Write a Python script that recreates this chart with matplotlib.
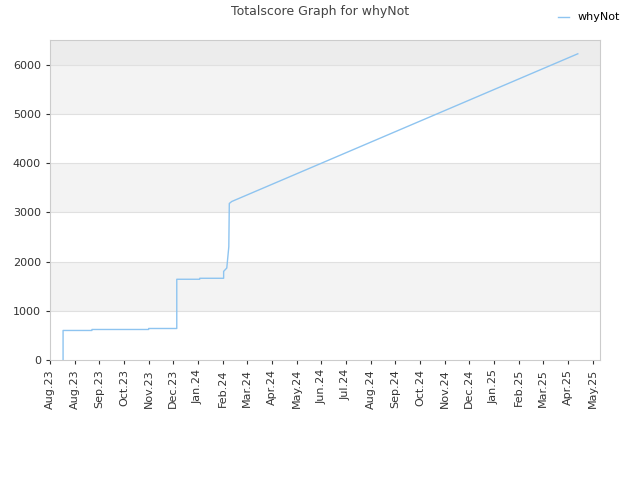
import numpy as np
import matplotlib
matplotlib.use("Agg")
import matplotlib.pyplot as plt

# x in month-slot units (tick index), y = total score
xs = [0.53, 0.53, 1.70, 1.70, 4.00, 4.00, 5.14, 5.14, 6.07, 6.07, 7.04, 7.04, 7.17, 7.17, 7.25, 7.25, 7.27, 7.37, 21.4]
ys = [0, 600, 600, 620, 620, 640, 640, 1640, 1640, 1660, 1660, 1800, 1870, 1880, 2300, 2300, 3180, 3220, 6220]
labels = ["Aug.23", "Aug.23", "Sep.23", "Oct.23", "Nov.23", "Dec.23", "Jan.24", "Feb.24", "Mar.24",
          "Apr.24", "May.24", "Jun.24", "Jul.24", "Aug.24", "Sep.24", "Oct.24", "Nov.24", "Dec.24",
          "Jan.25", "Feb.25", "Mar.25", "Apr.25", "May.25"]

fig = plt.figure(figsize=(6.4, 4.8), dpi=100)
ax = fig.add_axes([50/640, 1-360/480, 550/640, 320/480])
ymax = 6500
for lo, hi, c in [(1000, 2000, "#f3f3f3"), (3000, 4000, "#f3f3f3"), (5000, 6000, "#f3f3f3"), (6000, ymax, "#ececec")]:
    ax.axhspan(lo, hi, color=c, lw=0, zorder=0)
for g in range(1000, 7000, 1000):
    ax.axhline(g, color="#e0e0e0", lw=0.8, zorder=1)
ax.plot(xs, ys, color="#8ec4f0", lw=1.0, label="whyNot", zorder=3)
ax.set_xlim(0, 22.3)
ax.set_ylim(0, ymax)
ax.set_xticks(range(len(labels)))
ax.set_xticklabels(labels, rotation=90, fontsize=8, color="#333333")
ax.set_yticks(range(0, 7000, 1000))
ax.tick_params(axis="y", labelsize=8, colors="#333333", length=3)
ax.tick_params(axis="x", length=3, colors="#333333")
for s in ax.spines.values():
    s.set_color("#cccccc")
fig.text(0.5, 1-12/480, "Totalscore Graph for whyNot", ha="center", va="center", fontsize=9, color="#444444")
fig.legend(loc="upper right", bbox_to_anchor=(0.985, 0.995), fontsize=8, frameon=False, handlelength=1)
fig.savefig("out.png", dpi=100)
